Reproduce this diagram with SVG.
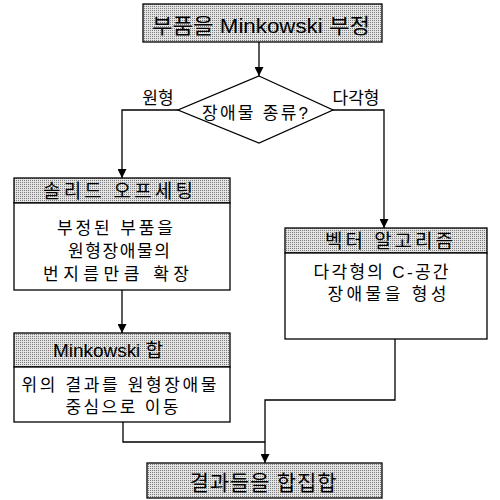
<svg xmlns="http://www.w3.org/2000/svg" width="500" height="500" viewBox="0 0 500 500">
<defs>
<pattern id="dots" width="2" height="2" patternUnits="userSpaceOnUse">
<rect width="2" height="2" fill="#e4e4e4"/>
<rect width="1" height="1" fill="#7a7a7a"/>
</pattern>
<marker id="arr" viewBox="0 0 10 10" refX="10" refY="5" markerWidth="9" markerHeight="9" markerUnits="userSpaceOnUse" orient="auto">
<path d="M0,0 L10,5 L0,10 z" fill="#000"/>
</marker>
</defs>
<style>
.hdr{fill:url(#dots);stroke:#000;stroke-width:1.3}
.bod{fill:#fff;stroke:#000;stroke-width:1.3}
.ln{fill:none;stroke:#000;stroke-width:1.3}
text{font-family:"Liberation Sans","Noto Sans CJK KR",sans-serif;font-size:17px;fill:#000;text-anchor:middle;dominant-baseline:central}
.h{font-size:19px}
.t{font-size:21px}
</style>
<g id="connectors">
<line class="ln" x1="259" y1="42" x2="259" y2="76" marker-end="url(#arr)"/>
<polyline class="ln" points="178,110 122,110 122,178" marker-end="url(#arr)"/>
<polyline class="ln" points="333,110 384,110 384,228" marker-end="url(#arr)"/>
<line class="ln" x1="122" y1="290" x2="122" y2="333" marker-end="url(#arr)"/>
<polyline class="ln" points="123,422 123,442 265,442"/>
<polyline class="ln" points="395,339 395,400 265,400 265,463" marker-end="url(#arr)"/>
<text x="158" y="98">원형</text>
<text x="356" y="98">다각형</text>
</g>
<g id="n-start">
<rect class="hdr" x="143" y="4" width="239" height="38"/>
<text class="t" x="261" y="25" textLength="218" lengthAdjust="spacingAndGlyphs">부품을 Minkowski 부정</text>
</g>
<g id="n-decision">
<polygon class="ln" points="259,76 333,110 259,143 178,110" fill="#fff"/>
<text x="255" y="113" textLength="106" lengthAdjust="spacing">장애물 종류?</text>
</g>
<g id="n-offset">
<rect class="hdr" x="14" y="178" width="216" height="25"/>
<rect class="bod" x="14" y="203" width="216" height="87"/>
<text class="h" x="118" y="191" textLength="150" lengthAdjust="spacing">솔리드 오프세팅</text>
<text x="115" y="228" textLength="116" lengthAdjust="spacing">부정된 부품을</text>
<text x="119" y="251" textLength="102" lengthAdjust="spacing">원형장애물의</text>
<text x="116" y="274" textLength="146" lengthAdjust="spacing">번지름만큼 확장</text>
</g>
<g id="n-minkowski">
<rect class="hdr" x="14" y="333" width="216" height="34"/>
<rect class="bod" x="14" y="367" width="216" height="55"/>
<text class="h" x="108" y="350" textLength="110" lengthAdjust="spacing">Minkowski 합</text>
<text x="119" y="385" textLength="195" lengthAdjust="spacing">위의 결과를 원형장애물</text>
<text x="122" y="407" textLength="113" lengthAdjust="spacing">중심으로 이동</text>
</g>
<g id="n-vector">
<rect class="hdr" x="285" y="228" width="202" height="25"/>
<rect class="bod" x="285" y="253" width="202" height="86"/>
<text class="h" x="389" y="241" textLength="128" lengthAdjust="spacing">벡터 알고리즘</text>
<text x="381" y="272" textLength="135" lengthAdjust="spacing">다각형의 C-공간</text>
<text x="387" y="294" textLength="119" lengthAdjust="spacing">장애물을 형성</text>
</g>
<g id="n-union">
<rect class="hdr" x="147" y="463" width="235" height="35"/>
<text class="t" x="263" y="482" textLength="147" lengthAdjust="spacing">결과들을 합집합</text>
</g>
</svg>
